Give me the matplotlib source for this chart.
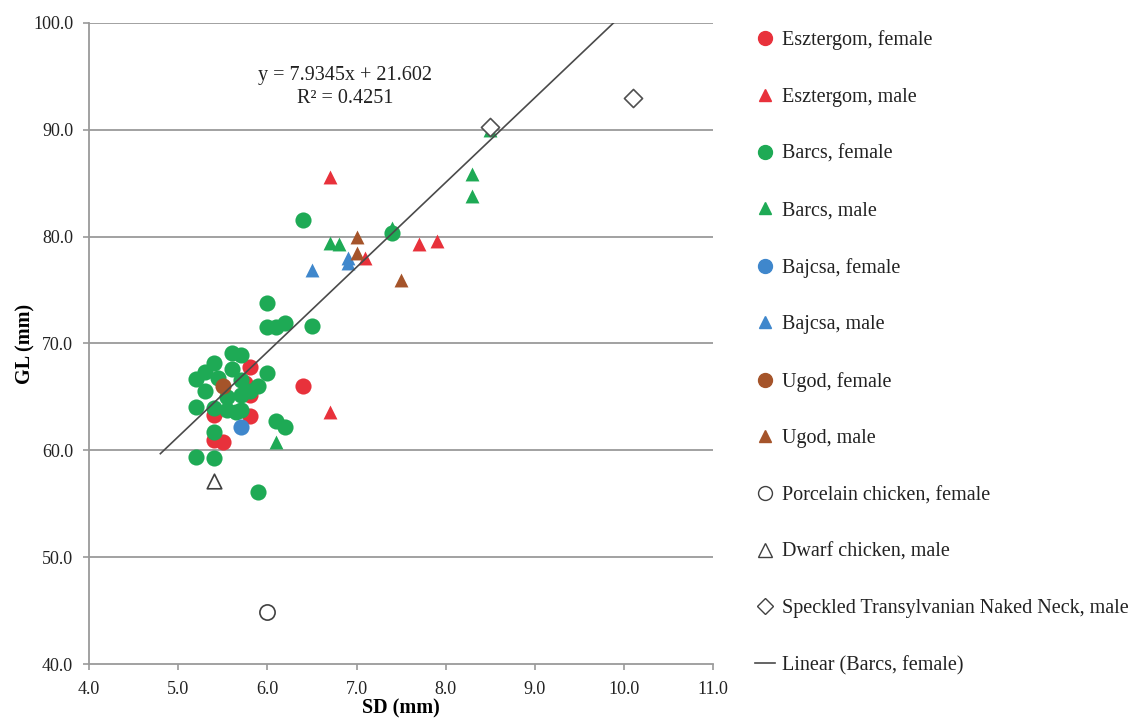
import matplotlib
matplotlib.use("Agg")
import matplotlib.pyplot as plt
from matplotlib.lines import Line2D
import numpy as np

plt.rcParams['font.family'] = ['Liberation Serif', 'DejaVu Serif']

# ---- data (SD mm, GL mm) ----
eszt_f_x = [5.8, 5.8, 5.4, 5.8, 5.4, 5.5, 6.4, 5.75]
eszt_f_y = [67.8, 65.2, 63.3, 63.2, 61.0, 60.8, 66.0, 66.3]
eszt_m_x = [6.7, 6.7, 7.1, 7.7, 7.9]
eszt_m_y = [85.6, 63.6, 78.0, 79.3, 79.6]
barcs_f_x = [6.0, 6.0, 6.1, 6.2, 6.5, 6.4, 7.4, 5.6, 5.7, 5.4, 5.3, 5.2, 5.6, 5.45,
             5.3, 5.2, 5.4, 5.55, 5.7, 5.7, 5.7, 5.8, 5.9, 6.0, 5.55, 5.65, 5.4,
             6.1, 6.2, 5.2, 5.4, 5.9]
barcs_f_y = [73.8, 71.5, 71.5, 71.9, 71.6, 81.6, 80.3, 69.1, 68.9, 68.2, 67.3, 66.7, 67.6, 66.8,
             65.6, 64.1, 64.0, 63.8, 63.8, 65.2, 66.6, 65.6, 66.0, 67.2, 65.0, 63.6, 61.7,
             62.7, 62.2, 59.4, 59.3, 56.1]
barcs_m_x = [8.5, 8.3, 8.3, 7.4, 6.7, 6.8, 6.1]
barcs_m_y = [90.0, 85.9, 83.8, 80.8, 79.4, 79.3, 60.8]
bajcsa_f_x = [5.7]
bajcsa_f_y = [62.2]
bajcsa_m_x = [6.5, 6.9, 6.9]
bajcsa_m_y = [76.9, 78.0, 77.5]
ugod_f_x = [5.5]
ugod_f_y = [66.0]
ugod_m_x = [7.0, 7.0, 7.5]
ugod_m_y = [80.0, 78.45, 75.9]
porc_f_x = [6.0]
porc_f_y = [44.9]
dwarf_m_x = [5.4]
dwarf_m_y = [57.1]
speck_m_x = [8.5, 10.1]
speck_m_y = [90.3, 93.0]

slope, intercept = 7.9345, 21.602
fit_x = [4.8, (100 - intercept) / slope]

xticks = [4.0, 5.0, 6.0, 7.0, 8.0, 9.0, 10.0, 11.0]
yticks = [40.0, 50.0, 60.0, 70.0, 80.0, 90.0, 100.0]

RED = '#E8313B'
GREEN = '#1EAA55'
BLUE = '#3F87CC'
BROWN = '#A5542A'

fig = plt.figure(figsize=(11.34, 7.18), dpi=100)
ax = fig.add_axes([0.0785, 0.0752, 0.5505, 0.8928])

for yv in yticks[1:]:
    ax.axhline(yv, color='#9a9a9a', lw=1.3, zorder=0)

cs = 135
ts = 100
ax.scatter(barcs_f_x, barcs_f_y, s=cs, c=GREEN, marker='o', zorder=3, linewidths=0)
ax.scatter(eszt_f_x, eszt_f_y, s=cs, c=RED, marker='o', zorder=2, linewidths=0)
ax.scatter(eszt_m_x, eszt_m_y, s=ts, c=RED, marker='^', zorder=3, linewidths=0)
ax.scatter(barcs_m_x, barcs_m_y, s=ts, c=GREEN, marker='^', zorder=3, linewidths=0)
ax.scatter(bajcsa_f_x, bajcsa_f_y, s=cs, c=BLUE, marker='o', zorder=4, linewidths=0)
ax.scatter(bajcsa_m_x, bajcsa_m_y, s=ts, c=BLUE, marker='^', zorder=3, linewidths=0)
ax.scatter(ugod_f_x, ugod_f_y, s=cs, c=BROWN, marker='o', zorder=4, linewidths=0)
ax.scatter(ugod_m_x, ugod_m_y, s=ts, c=BROWN, marker='^', zorder=3, linewidths=0)
ax.scatter(porc_f_x, porc_f_y, s=120, facecolors='white', edgecolors='#404040', marker='o', linewidths=1.2, zorder=3)
ax.scatter(dwarf_m_x, dwarf_m_y, s=110, facecolors='white', edgecolors='#404040', marker='^', linewidths=1.2, zorder=3)
ax.scatter(speck_m_x, speck_m_y, s=85, facecolors='white', edgecolors='#505050', marker='D', linewidths=1.2, zorder=3)

fit_y = [slope * v + intercept for v in fit_x]
ax.plot(fit_x, fit_y, color='#4a4a4a', lw=1.2, zorder=5)

ax.text(6.87, 94.0, 'y = 7.9345x + 21.602\nR² = 0.4251', ha='center', va='center',
        fontsize=14.5, color='#222222', linespacing=1.25)

ax.set_xlim(4.0, 11.0)
ax.set_ylim(40.0, 100.0)
ax.set_xticks(xticks)
ax.set_yticks(yticks)
ax.set_xticklabels([f'{v:.1f}' for v in xticks], fontsize=13)
ax.set_yticklabels([f'{v:.1f}' for v in yticks], fontsize=13)
ax.tick_params(axis='both', direction='out', length=4, width=1.2, color='#9a9a9a', labelcolor='#222222')
ax.tick_params(axis='x', pad=8)
ax.tick_params(axis='y', pad=7.5)
for s in ['top', 'right']:
    ax.spines[s].set_visible(False)
for s in ['left', 'bottom']:
    ax.spines[s].set_color('#9a9a9a')
    ax.spines[s].set_linewidth(1.3)

ax.set_xlabel('SD (mm)', fontsize=14.5, fontweight='bold', labelpad=0.5)
ax.set_ylabel('GL (mm)', fontsize=14.5, fontweight='bold', labelpad=-2)

handles = [
    Line2D([], [], ls='', marker='o', color=RED, markersize=10, label='Esztergom, female'),
    Line2D([], [], ls='', marker='^', color=RED, markersize=9, label='Esztergom, male'),
    Line2D([], [], ls='', marker='o', color=GREEN, markersize=10, label='Barcs, female'),
    Line2D([], [], ls='', marker='^', color=GREEN, markersize=9, label='Barcs, male'),
    Line2D([], [], ls='', marker='o', color=BLUE, markersize=10, label='Bajcsa, female'),
    Line2D([], [], ls='', marker='^', color=BLUE, markersize=9, label='Bajcsa, male'),
    Line2D([], [], ls='', marker='o', color=BROWN, markersize=10, label='Ugod, female'),
    Line2D([], [], ls='', marker='^', color=BROWN, markersize=9, label='Ugod, male'),
    Line2D([], [], ls='', marker='o', markerfacecolor='white', markeredgecolor='#404040', markersize=10, label='Porcelain chicken, female'),
    Line2D([], [], ls='', marker='^', markerfacecolor='white', markeredgecolor='#404040', markersize=10, label='Dwarf chicken, male'),
    Line2D([], [], ls='', marker='D', markerfacecolor='white', markeredgecolor='#404040', markersize=8, label='Speckled Transylvanian Naked Neck, male'),
    Line2D([], [], color='#4a4a4a', lw=1.2, label='Linear (Barcs, female)'),
]
fig.legend(handles=handles, loc='upper left', bbox_to_anchor=(0.650, 0.983), frameon=False,
           fontsize=14.5, labelspacing=1.865, handlelength=1.0, handletextpad=0.35,
           labelcolor='#222222')

fig.savefig('out.png', dpi=100)
